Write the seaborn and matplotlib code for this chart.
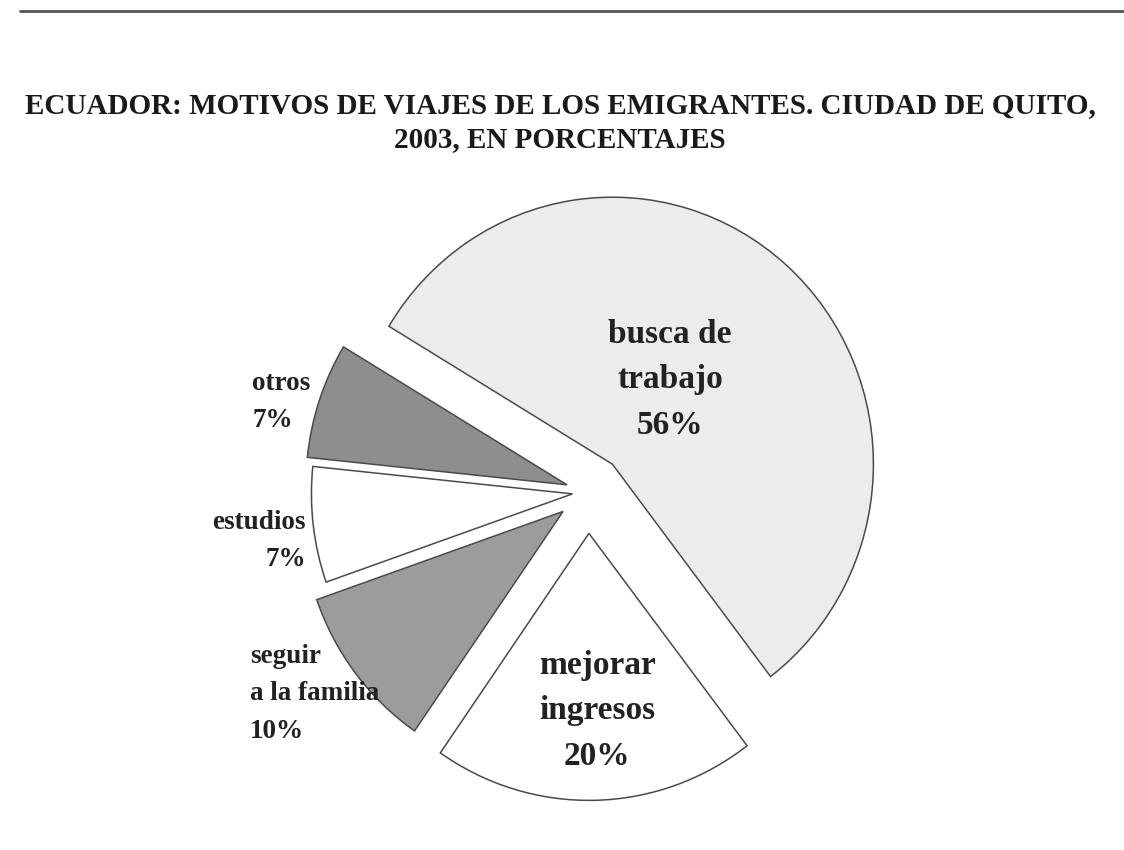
import matplotlib.pyplot as plt
import seaborn as sns

# datos del grafico
motivos = ["busca de\ntrabajo", "mejorar\ningresos", "seguir\na la familia", "estudios", "otros"]
porcentajes = [56, 20, 10, 7, 7]
separacion = [0.14, 0.155, 0.12, 0.06, 0.085]
colores = ["#ececec", "#ffffff", "#9c9c9c", "#ffffff", "#8e8e8e"]

titulo = "ECUADOR: MOTIVOS DE VIAJES DE LOS EMIGRANTES. CIUDAD DE QUITO,\n2003, EN PORCENTAJES"

sns.set_theme(style="white")
plt.rcParams["font.family"] = ["Liberation Serif", "DejaVu Serif"]

W, H = 1124, 850
RX, RY = 261.0, 267.0  # radio del pastel en pixeles (el escaneo esta algo estirado)
cx, cy = 588, 492  # centro (pixeles, desde arriba)

fig = plt.figure(figsize=(W / 100, H / 100), dpi=100)
ax = fig.add_axes([0, 0, 1, 1])
ax.pie(porcentajes,
       explode=separacion,
       colors=colores,
       startangle=148.9,
       counterclock=False,
       radius=1.0,
       wedgeprops=dict(edgecolor="#4a4a4a", linewidth=1.1))
ax.set_aspect("auto")
ax.set_xlim(-cx / RX, (W - cx) / RX)
ax.set_ylim(-(H - cy) / RY, cy / RY)
ax.axis("off")


def px(x, y):
    return x / W, 1 - y / H


# titulo
lineas = titulo.split("\n")
fig.text(*px(560, 106), lineas[0], ha="center", va="center",
         fontsize=21, fontweight="bold", color="#1a1a1a")
fig.text(*px(560, 140), lineas[1], ha="center", va="center",
         fontsize=21, fontweight="bold", color="#1a1a1a")

# etiquetas interiores
fig.text(*px(670, 380), motivos[0] + "\n%d%%" % porcentajes[0], ha="center", va="center",
         fontsize=24, fontweight="bold", color="#222222", linespacing=1.6)
fig.text(*px(597, 711), motivos[1] + "\n%d%%" % porcentajes[1], ha="center", va="center",
         fontsize=24, fontweight="bold", color="#222222", linespacing=1.6)

# etiquetas exteriores
fig.text(*px(250, 694), motivos[2] + "\n%d%%" % porcentajes[2], ha="left", va="center",
         fontsize=19.5, fontweight="bold", color="#222222", linespacing=1.65)
fig.text(*px(306, 541), motivos[3] + "\n%d%%" % porcentajes[3], ha="right", va="center",
         fontsize=19.5, fontweight="bold", color="#222222", linespacing=1.65)
fig.text(*px(252, 402), motivos[4] + "\n%d%%" % porcentajes[4], ha="left", va="center",
         fontsize=19.5, fontweight="bold", color="#222222", linespacing=1.65)

# linea superior de la pagina
fig.add_artist(plt.Line2D([20 / W, 1], [1 - 11 / H, 1 - 11 / H], color="#555555", linewidth=2))

plt.savefig("out.png", dpi=100)
